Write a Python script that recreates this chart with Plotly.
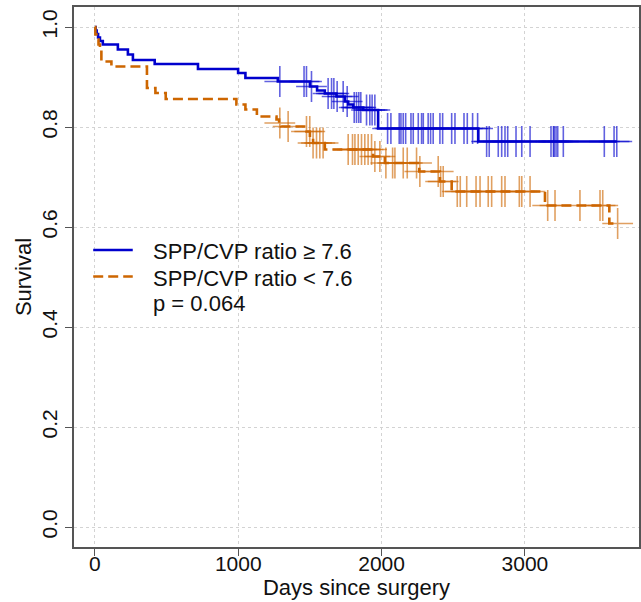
import plotly.graph_objects as go

# ---- data ----
# Group 1: SPP/CVP ratio >= 7.6  (step times in days, survival after step)
hi_times = [0, 5, 12, 22, 35, 55, 160, 230, 265, 417, 719, 999, 1050, 1276, 1500, 1550,
            1604, 1685, 1744, 1767, 1802, 1872, 1976, 2675]
hi_surv = [1.0, 0.993, 0.986, 0.979, 0.972, 0.965, 0.955, 0.945, 0.934, 0.926, 0.916, 0.908,
           0.898, 0.891, 0.881, 0.873, 0.867, 0.861, 0.851, 0.845, 0.839, 0.834, 0.797, 0.771]
hi_end = 3641
hi_censor = [1290, 1459, 1476, 1511, 1627, 1651, 1667, 1690, 1732, 1760, 1809, 1825, 1841,
             1855, 1895, 1918, 1934, 1953, 2042, 2065, 2123, 2135, 2151, 2168, 2205, 2221,
             2256, 2279, 2291, 2325, 2342, 2360, 2407, 2426, 2489, 2512, 2575, 2598, 2635,
             2670, 2733, 2751, 2814, 2838, 2861, 2880, 2938, 2978, 3036, 3182, 3199, 3204,
             3217, 3229, 3268, 3554, 3622, 3641]

# Group 2: SPP/CVP ratio < 7.6
lo_times = [0, 3, 10, 25, 35, 45, 115, 363, 422, 494, 987, 1050, 1130, 1267, 1285, 1300,
            1476, 1500, 1522, 1604, 1941, 2023, 2263, 2407, 2489, 3140, 3589]
lo_surv = [1.0, 0.985, 0.975, 0.965, 0.955, 0.931, 0.921, 0.878, 0.868, 0.856, 0.845, 0.835,
           0.821, 0.815, 0.808, 0.801, 0.791, 0.778, 0.768, 0.755, 0.741, 0.728, 0.711,
           0.691, 0.671, 0.643, 0.607]
lo_end = 3647
lo_censor = [1290, 1348, 1476, 1499, 1522, 1546, 1569, 1592, 1767, 1797, 1814, 1837, 1860,
             1883, 1906, 1930, 1953, 1988, 2030, 2077, 2093, 2151, 2179, 2244, 2267, 2395,
             2412, 2430, 2528, 2549, 2594, 2659, 2687, 2744, 2768, 2838, 2861, 2961, 2978,
             3036, 3159, 3210, 3384, 3524, 3543, 3647]

labels = ["SPP/CVP ratio \u2265 7.6", "SPP/CVP ratio < 7.6"]
p_text = "p = 0.064"
x_ticks = [0, 1000, 2000, 3000]
y_ticks = [0.0, 0.2, 0.4, 0.6, 0.8, 1.0]
y_ticklabels = ["0.0", "0.2", "0.4", "0.6", "0.8", "1.0"]

BLUE = "#0000CD"
ORANGE = "#CD6600"
BLUE_T = "rgba(0,0,205,0.62)"
ORANGE_T = "rgba(205,102,0,0.62)"
DASH = "10px,5px"


def surv_at(times, survs, t):
    s = survs[0]
    for ti, si in zip(times, survs):
        if ti <= t:
            s = si
    return s


fig = go.Figure()

for times, survs, end, cens, name, col, colt, dash in [
    (hi_times, hi_surv, hi_end, hi_censor, labels[0], BLUE, BLUE_T, "solid"),
    (lo_times, lo_surv, lo_end, lo_censor, labels[1], ORANGE, ORANGE_T, DASH),
]:
    xs = list(times) + [end]
    ys = list(survs) + [survs[-1]]
    fig.add_trace(go.Scatter(x=xs, y=ys, mode="lines", line_shape="hv",
                             line=dict(color=col, width=2.6, dash=dash),
                             name=name, showlegend=False))
    fig.add_trace(go.Scatter(x=cens, y=[surv_at(times, survs, t) for t in cens],
                             mode="markers",
                             marker=dict(symbol="cross-thin", size=22,
                                         line=dict(color=colt, width=1.6)),
                             showlegend=False, hoverinfo="skip", name=name + " (censored)"))

font_family = "Arial, Liberation Sans, sans-serif"
TXT = "#111111"

# ---- legend drawn as layout items (positions in plot-domain fractions) ----
leg_x0, leg_x1, leg_tx = 0.034, 0.104, 0.1365
leg_rows = [0.547, 0.498, 0.451]
shapes = [
    dict(type="line", xref="x domain", yref="y domain", x0=leg_x0, x1=leg_x1,
         y0=leg_rows[0] + 0.003, y1=leg_rows[0] + 0.003,
         line=dict(color=BLUE, width=2.6)),
    dict(type="line", xref="x domain", yref="y domain", x0=leg_x0, x1=leg_x1,
         y0=leg_rows[1] + 0.003, y1=leg_rows[1] + 0.003,
         line=dict(color=ORANGE, width=2.6, dash=DASH)),
]
annotations = [
    dict(xref="x domain", yref="y domain", x=leg_tx, y=yv, text=t, showarrow=False,
         xanchor="left", yanchor="middle", font=dict(size=22, color=TXT))
    for yv, t in zip(leg_rows, labels + [p_text])
]

fig.update_layout(
    width=641, height=602,
    margin=dict(l=74, r=2, t=7, b=55),
    paper_bgcolor="white", plot_bgcolor="white",
    font=dict(family=font_family, size=21, color=TXT),
    showlegend=False,
    shapes=shapes, annotations=annotations,
    xaxis=dict(range=[-146, 3796], tickvals=x_ticks, ticks="outside", ticklen=7,
               tickcolor="#555555", showline=True, linecolor="#555555", linewidth=1.5,
               mirror=True, showgrid=True, gridcolor="#d3d3d3", griddash="dot",
               gridwidth=1, zeroline=False, automargin=False, ticklabelstandoff=-10,
               title=dict(text="Days since surgery", font=dict(size=22), standoff=4),
               tickfont=dict(size=21)),
    yaxis=dict(range=[-0.04, 1.04], tickvals=y_ticks, ticktext=y_ticklabels,
               ticks="outside", ticklen=7, tickangle=-90,
               tickcolor="#555555", showline=True, linecolor="#555555", linewidth=1.5,
               mirror=True, showgrid=True, gridcolor="#d3d3d3", griddash="dot",
               gridwidth=1, zeroline=False, automargin=False,
               title=dict(text="Survival", font=dict(size=22), standoff=0),
               tickfont=dict(size=21)),
)

fig.write_html("out.html", config={"displayModeBar": False},
               post_script="document.body.style.margin='0';")
